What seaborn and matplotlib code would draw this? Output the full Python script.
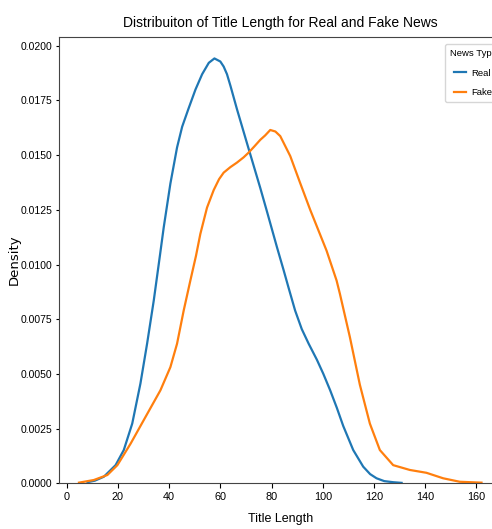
import matplotlib
matplotlib.use("Agg")
import matplotlib.pyplot as plt
from matplotlib.ticker import FormatStrFormatter
import seaborn as sns
import pandas as pd

# Density curves of headline length (characters) for each news type
real_length = [8.1, 11.0, 14.5, 19.1, 22.3, 25.6, 28.8, 31.4, 34.0, 36.4, 37.9, 40.5,
               43.1, 45.1, 47.5, 50.3, 52.9, 55.5, 57.7, 60.0, 61.3, 62.6, 64.0, 66.5,
               70.4, 75.6, 78.2, 82.1, 84.7, 86.6, 89.2, 91.8, 94.5, 97.7, 100.2, 102.9,
               105.5, 108.0, 111.9, 115.8, 118.5, 121.0, 124.0, 127.5, 130.8]
real_density = [0.00005, 0.00012, 0.0003, 0.00083, 0.00152, 0.00273, 0.00456, 0.00638,
                0.00835, 0.0104, 0.0117, 0.0137, 0.01535, 0.0163, 0.0171, 0.0180,
                0.0187, 0.01922, 0.01942, 0.01928, 0.01905, 0.0187, 0.01815, 0.0171,
                0.01555, 0.0135, 0.01243, 0.0108, 0.00975, 0.00896, 0.0079, 0.00705,
                0.00638, 0.00565, 0.00501, 0.00425, 0.00345, 0.00262, 0.00152, 0.00076,
                0.00042, 0.00023, 0.0001, 0.00005, 0.00002]

fake_length = [4.8, 10.6, 15.9, 19.8, 25.0, 30.1, 36.6, 40.5, 43.1, 45.7, 48.3, 50.5,
               52.2, 54.8, 57.4, 59.5, 61.3, 63.9, 66.5, 69.1, 71.0, 73.3, 75.6, 77.5,
               79.5, 81.5, 83.4, 87.3, 91.1, 95.1, 101.5, 105.4, 106.7, 108.0, 110.6,
               114.5, 118.4, 122.3, 127.5, 134.0, 140.5, 147.0, 153.5, 162.0]
fake_density = [0.00003, 0.00015, 0.00038, 0.00083, 0.00182, 0.00289, 0.00425, 0.00531,
                0.00638, 0.0079, 0.00927, 0.0104, 0.0114, 0.0126, 0.0134, 0.0139,
                0.0142, 0.01445, 0.01466, 0.0149, 0.01511, 0.0154, 0.0157, 0.0159,
                0.01615, 0.01608, 0.01587, 0.01496, 0.01375, 0.0125, 0.01063, 0.00927,
                0.00866, 0.0080, 0.00668, 0.0045, 0.00273, 0.00152, 0.00083, 0.00061,
                0.00048, 0.00023, 0.00007, 0.00003]

news_types = ["Real", "Fake"]

df = pd.concat([
    pd.DataFrame({"Title Length": real_length, "Density": real_density, "News Type": news_types[0]}),
    pd.DataFrame({"Title Length": fake_length, "Density": fake_density, "News Type": news_types[1]}),
], ignore_index=True)

plt.rcParams["font.family"] = ["Liberation Sans", "DejaVu Sans"]

W, H = 492, 529
fig = plt.figure(figsize=(W / 100, H / 100), dpi=100)
# the axes run past the right edge of the canvas
ax = fig.add_axes([59 / W, 1 - 483.3 / H, 443 / W, 446.3 / H])

sns.lineplot(data=df, x="Title Length", y="Density", hue="News Type",
             hue_order=news_types, palette=["#1f77b4", "#ff7f0e"],
             linewidth=1.6, ax=ax)

ax.set_xlim(-3, 170)
ax.set_ylim(0, 0.0204)
ax.set_xticks(range(0, 161, 20))
ax.set_yticks([i * 0.0025 for i in range(9)])
ax.yaxis.set_major_formatter(FormatStrFormatter("%.4f"))
ax.tick_params(axis="x", labelsize=7.8, length=3.5, pad=3)
ax.tick_params(axis="y", labelsize=7.5, length=2.2, pad=2.5)
for s in ax.spines.values():
    s.set_color("#444444")

ax.set_title("Distribuiton of Title Length for Real and Fake News", fontsize=10, pad=7)
ax.set_xlabel("Title Length", fontsize=9, labelpad=8)
ax.set_ylabel("Density", fontsize=9.5, family="DejaVu Sans")
ax.yaxis.set_label_coords((21 - 59) / 443, 0.5)

leg = ax.legend(title="News Type", loc="upper left",
                bbox_to_anchor=(445 / W, 1 - 44 / H), bbox_transform=fig.transFigure,
                borderaxespad=0, fontsize=6.8, title_fontsize=6.8, labelspacing=1.15,
                borderpad=0.5, handlelength=1.3, handletextpad=0.5, frameon=True)

fig.savefig("out.png", dpi=100)
